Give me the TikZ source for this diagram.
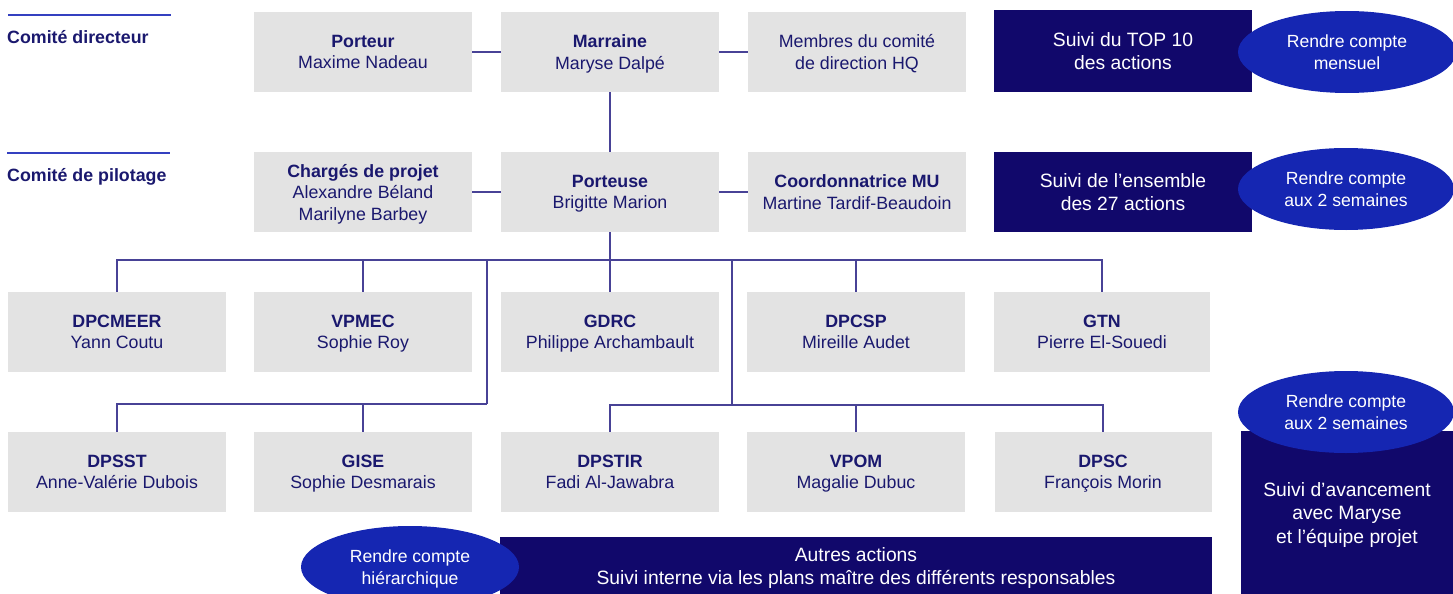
\documentclass[tikz,border=0pt]{standalone}
\usepackage{fontspec}
\setmainfont{Liberation Sans}
\usetikzlibrary{shapes.geometric,positioning}
\definecolor{boxgray}{RGB}{227,227,227}
\definecolor{navytext}{RGB}{26,24,110}
\definecolor{darkbox}{RGB}{17,8,107}
\definecolor{bubble}{RGB}{21,38,178}
\definecolor{linkcol}{RGB}{72,66,150}
\definecolor{rulecol}{RGB}{52,64,192}
\tikzstyle{member}=[rectangle, fill=boxgray, text=navytext, minimum width=218pt, minimum height=80pt, inner sep=0pt, text depth=0pt, align=center, font=\fontsize{17.8}{21.5}\selectfont]
\tikzstyle{follow}=[rectangle, fill=darkbox, text=white, inner sep=0pt, text depth=0pt, align=center, font=\fontsize{19.3}{23.5}\selectfont]
\tikzstyle{report}=[ellipse, fill=bubble, text=white, minimum width=216pt, minimum height=82pt, inner sep=0pt, text depth=0pt, align=center, font=\fontsize{17.6}{21.5}\selectfont]
\tikzstyle{link}=[draw=linkcol, line width=1.2pt]
\tikzstyle{rule}=[draw=rulecol, line width=2pt]
\tikzstyle{committee}=[anchor=base west, inner sep=0pt, text=navytext, font=\bfseries\fontsize{17.8}{21}\selectfont]
\tikzset{y=-1pt}
\tikzset{x=1pt}

\begin{document}
\begin{tikzpicture}
  \useasboundingbox (0,0) rectangle (1453,594);
  %% Committee labels
  \draw[rule] (8,15) -- (171,15);
  \draw (7,44) node[committee] (cdir) {Comité directeur};
  \draw[rule] (7,153) -- (170,153);
  \draw (7,181) node[committee] (cpil) {Comité de pilotage};

  %% Comite directeur
  \draw (363,52) node[member] (porteur) {\textbf{Porteur}\\Maxime Nadeau};
  \draw (610,52) node[member] (marraine) {\textbf{Marraine}\\Maryse Dalpé};
  \draw (857,52) node[member] (membres) {Membres du comité\\de direction HQ};

  %% Comite de pilotage
  \draw (363,192) node[member] (charges) {\textbf{Chargés de projet}\\Alexandre Béland\\Marilyne Barbey};
  \draw (610,192) node[member] (porteuse) {\textbf{Porteuse}\\Brigitte Marion};
  \draw (857,192) node[member] (coord) {\textbf{Coordonnatrice MU}\\Martine Tardif-Beaudoin};

  %% Directions
  \draw (117,332) node[member] (dpcmeer) {\textbf{DPCMEER}\\Yann Coutu};
  \draw (363,332) node[member] (vpmec) {\textbf{VPMEC}\\Sophie Roy};
  \draw (610,332) node[member] (gdrc) {\textbf{GDRC}\\Philippe Archambault};
  \draw (856,332) node[member] (dpcsp) {\textbf{DPCSP}\\Mireille Audet};
  \draw (1102,332) node[member, minimum width=216pt] (gtn) {\textbf{GTN}\\Pierre El-Souedi};

  \draw (117,472) node[member] (dpsst) {\textbf{DPSST}\\Anne-Valérie Dubois};
  \draw (363,472) node[member] (gise) {\textbf{GISE}\\Sophie Desmarais};
  \draw (610,472) node[member] (dpstir) {\textbf{DPSTIR}\\Fadi Al-Jawabra};
  \draw (856,472) node[member] (vpom) {\textbf{VPOM}\\Magalie Dubuc};
  \draw (1103,472) node[member, minimum width=217pt] (dpsc) {\textbf{DPSC}\\François Morin};

  %% Links
  \draw[link] (porteur) -- (marraine);
  \draw[link] (marraine) -- (membres);
  \draw[link] (marraine) -- (porteuse);
  \draw[link] (charges) -- (porteuse);
  \draw[link] (porteuse) -- (coord);

  \coordinate (busL) at (117,260);
  \coordinate (brL) at (487,260);
  \coordinate (brR) at (732,260);
  \coordinate (subL) at (487,404);
  \coordinate (subR) at (732,405);

  \draw[link] (porteuse) -- (porteuse |- busL);
  \draw[link] (dpcmeer) -- (dpcmeer |- busL) -- (gtn |- busL) -- (gtn);
  \draw[link] (vpmec) -- (vpmec |- busL);
  \draw[link] (gdrc) -- (gdrc |- busL);
  \draw[link] (dpcsp) -- (dpcsp |- busL);

  \draw[link] (brL) -- (subL);
  \draw[link] (dpsst) |- (subL);
  \draw[link] (gise) -- (gise |- subL);
  \draw[link] (brR) -- (subR);
  \draw[link] (dpstir) |- (subR);
  \draw[link] (dpsc) |- (subR);
  \draw[link] (vpom) -- (vpom |- subR);

  %% Follow-up
  \draw (1123,51) node[follow, minimum width=258pt, minimum height=82pt] (top10) {Suivi du TOP 10\\des actions};
  \draw (1123,192) node[follow, minimum width=258pt, minimum height=80pt] (all27) {Suivi de l’ensemble\\des 27 actions};
  \draw (1347,513) node[follow, minimum width=212pt, minimum height=164pt] (avancement) {Suivi d’avancement\\avec Maryse\\et l’équipe projet};
  \draw (856,566) node[follow, minimum width=712pt, minimum height=58pt] (autres) {Autres actions\\Suivi interne via les plans maître des différents responsables};

  %% Reporting
  \draw (1347,52) node[report, minimum width=218pt] (rc1) {Rendre compte\\mensuel};
  \draw (1346,189) node[report] (rc2) {Rendre compte\\aux 2 semaines};
  \draw (1346,412) node[report] (rc3) {Rendre compte\\aux 2 semaines};
  \draw (410,567) node[report, minimum width=218pt] (rc4) {Rendre compte\\hiérarchique};
\end{tikzpicture}
\end{document}
